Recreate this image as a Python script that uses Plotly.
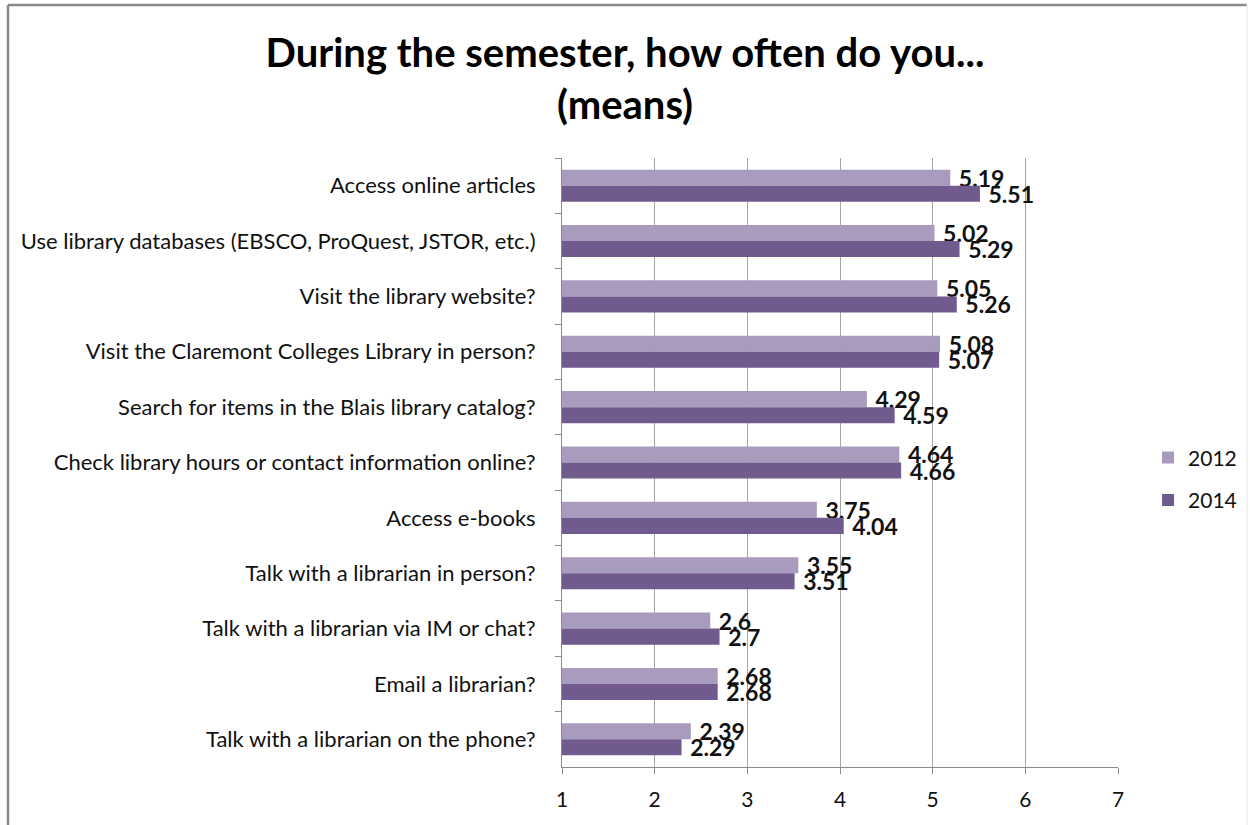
import plotly.graph_objects as go

categories = [
    "Access online articles",
    "Use library databases (EBSCO, ProQuest, JSTOR, etc.)",
    "Visit the library website?",
    "Visit the Claremont Colleges Library in person?",
    "Search for items in the Blais library catalog?",
    "Check library hours or contact information online?",
    "Access e-books",
    "Talk with a librarian in person?",
    "Talk with a librarian via IM or chat?",
    "Email a librarian?",
    "Talk with a librarian on the phone?",
]
values_2012 = [5.19, 5.02, 5.05, 5.08, 4.29, 4.64, 3.75, 3.55, 2.6, 2.68, 2.39]
values_2014 = [5.51, 5.29, 5.26, 5.07, 4.59, 4.66, 4.04, 3.51, 2.7, 2.68, 2.29]
x_ticks = [1, 2, 3, 4, 5, 6, 7]

FONT = "Lato"
c2012 = "#A99BBE"
c2014 = "#705A8E"

fig = go.Figure()
for name, vals, col, grp in [("2012", values_2012, c2012, "a"), ("2014", values_2014, c2014, "b")]:
    fig.add_trace(go.Bar(
        name=name, y=categories, x=vals, orientation="h",
        marker=dict(color=col, line=dict(width=0)),
        text=[f"\u00a0{v:g}" for v in vals],
        textposition="outside", constraintext="none", cliponaxis=False,
        textfont=dict(family=FONT, size=23, color="#111111", weight="bold"),
        legendgroup=grp, hoverinfo="skip",
    ))

fig.update_layout(
    width=1250, height=825,
    paper_bgcolor="white", plot_bgcolor="white",
    margin=dict(l=562, r=132, t=158, b=58, autoexpand=False),
    barmode="group", bargap=0.42, bargroupgap=0,
    title=dict(
        text="<b>During the semester, how often do you...<br>(means)</b>",
        font=dict(family=FONT, size=40, color="black"),
        x=0.5, xanchor="center", xref="container", y=0.919, yanchor="middle",
    ),
    legend=dict(
        x=1.054, y=0.473, xanchor="left", yanchor="middle",
        font=dict(family=FONT, size=21, color="#111111"),
        traceorder="grouped", tracegroupgap=12,
        itemwidth=30, bgcolor="rgba(0,0,0,0)",
    ),
    xaxis=dict(
        range=[1, 7], tickvals=x_ticks, showgrid=True, gridcolor="#A6A6A6", gridwidth=1,
        showline=True, linecolor="#8C8C8C", linewidth=1,
        ticks="outside", ticklen=6, tickcolor="#8C8C8C",
        tickfont=dict(family=FONT, size=21, color="#111111"),
        ticklabelstandoff=8, zeroline=False, fixedrange=True,
    ),
    yaxis=dict(
        autorange="reversed", showline=True, linecolor="#8C8C8C", linewidth=1,
        ticks="outside", ticklen=6, tickcolor="#8C8C8C", tickson="boundaries",
        tickfont=dict(family=FONT, size=22, color="#111111"),
        ticklabelstandoff=21, showgrid=False,
    ),
)

# frame around the chart
fig.add_shape(type="line", xref="paper", yref="paper", x0=-0.9964, x1=-0.9964, y0=-0.2, y1=1.2512,
              line=dict(color="#8A8A8A", width=2.5))
fig.add_shape(type="line", xref="paper", yref="paper", x0=-0.9964, x1=1.232, y0=1.2512, y1=1.2512,
              line=dict(color="#8A8A8A", width=2.5))
fig.add_shape(type="line", xref="paper", yref="paper", x0=1.232, x1=1.232, y0=-0.2, y1=1.2512,
              line=dict(color="#E6E6E6", width=1))

fig.write_html(
    "out.html",
    config={"displayModeBar": False},
    post_script="document.body.style.margin='0';document.body.style.overflow='hidden';",
)
